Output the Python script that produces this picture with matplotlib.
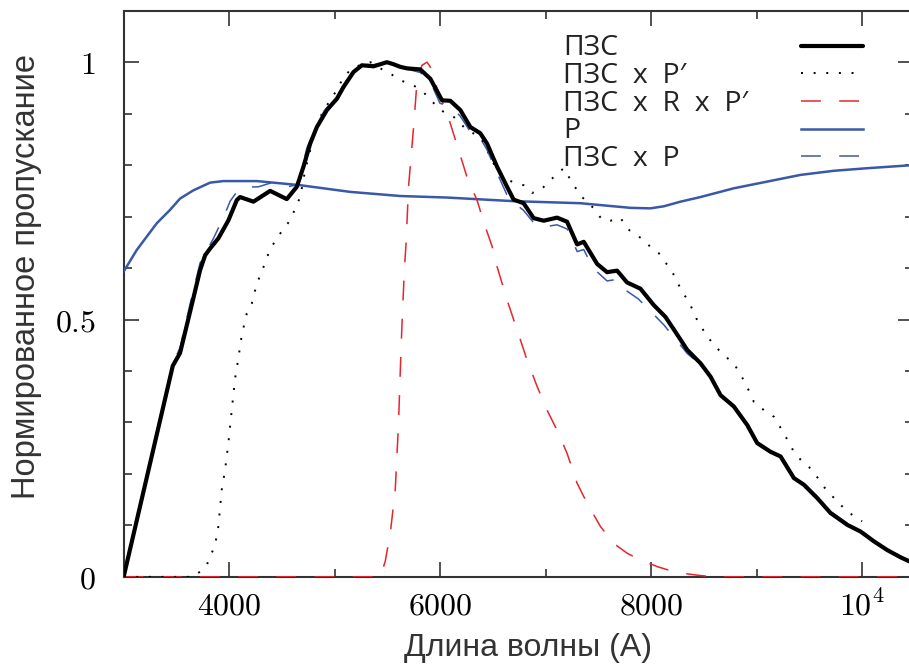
import matplotlib
matplotlib.use("Agg")
import matplotlib.pyplot as plt
from matplotlib import font_manager
from matplotlib.ticker import FixedLocator, MultipleLocator

plt.rcParams['mathtext.fontset'] = 'cm'

names = {f.name for f in font_manager.fontManager.ttflist}
label_font = 'Liberation Sans Narrow' if 'Liberation Sans Narrow' in names else 'Liberation Sans'

# ПЗС
ccd_x = [3000, 3466, 3535, 3630, 3725, 3773, 3820, 3899, 3994, 4073, 4104, 4231, 4389, 4547,
         4642, 4705, 4769, 4832, 4927, 5022, 5085, 5180, 5259, 5370, 5496, 5559, 5622, 5686,
         5812, 5907, 6018, 6097, 6192, 6287, 6381, 6445, 6540, 6635, 6697, 6792, 6887, 6982,
         7109, 7204, 7299, 7362, 7489, 7583, 7678, 7773, 7899, 8026, 8137, 8231, 8343, 8469,
         8564, 8659, 8785, 8912, 9006, 9133, 9228, 9354, 9449, 9576, 9702, 9861, 9987, 10113,
         10240, 10366, 10450]
ccd_y = [0.0, 0.41, 0.435, 0.515, 0.596, 0.625, 0.638, 0.658, 0.693, 0.732, 0.738, 0.729, 0.750,
         0.734, 0.758, 0.797, 0.842, 0.874, 0.907, 0.929, 0.952, 0.981, 0.994, 0.992, 1.0, 0.996,
         0.991, 0.988, 0.986, 0.968, 0.926, 0.925, 0.907, 0.874, 0.862, 0.842, 0.797, 0.758,
         0.733, 0.726, 0.697, 0.692, 0.698, 0.690, 0.646, 0.651, 0.608, 0.592, 0.595, 0.572,
         0.560, 0.528, 0.505, 0.476, 0.441, 0.415, 0.389, 0.353, 0.331, 0.295, 0.260, 0.243,
         0.234, 0.192, 0.179, 0.153, 0.124, 0.101, 0.088, 0.069, 0.052, 0.038, 0.030]

# ПЗС x P'
ccdp2_x = [3000, 3650, 3725, 3788, 3867, 3898, 3930, 3962, 3993, 4025, 4057, 4088, 4120, 4168,
           4215, 4263, 4310, 4389, 4484, 4579, 4674, 4721, 4753, 4800, 4879, 4958, 5022, 5085,
           5164, 5274, 5340, 5433, 5527, 5622, 5749, 5850, 6002, 6128, 6255, 6381, 6508, 6602,
           6697, 6792, 6872, 6951, 7046, 7172, 7267, 7346, 7457, 7536, 7615, 7710, 7773, 7836,
           7931, 7994, 8073, 8200, 8295, 8358, 8437, 8532, 8627, 8706, 8785, 8896, 8975, 9070,
           9165, 9259, 9354, 9433, 9528, 9638, 9749, 9860, 9955, 10000]
ccdp2_y = [0.0, 0.0, 0.01, 0.023, 0.062, 0.098, 0.169, 0.208, 0.26, 0.324, 0.386, 0.425, 0.47,
           0.512, 0.531, 0.570, 0.593, 0.637, 0.667, 0.693, 0.738, 0.79, 0.816, 0.855, 0.9, 0.926,
           0.946, 0.971, 0.988, 0.997, 1.0, 0.988, 0.978, 0.965, 0.955, 0.94, 0.907, 0.894, 0.868,
           0.855, 0.803, 0.777, 0.766, 0.761, 0.746, 0.751, 0.771, 0.794, 0.761, 0.738, 0.716,
           0.694, 0.692, 0.698, 0.677, 0.667, 0.655, 0.641, 0.629, 0.593, 0.554, 0.535, 0.499,
           0.467, 0.444, 0.428, 0.415, 0.376, 0.340, 0.324, 0.311, 0.279, 0.243, 0.224, 0.208,
           0.175, 0.150, 0.127, 0.114, 0.108]

# ПЗС x R x P'
ccdr_x = [3000, 5433, 5480, 5528, 5575, 5606, 5622, 5638, 5660, 5679, 5701, 5749, 5780, 5828,
          5876, 5907, 5954, 6018, 6097, 6176, 6255, 6350, 6429, 6492, 6540, 6635, 6730, 6825,
          6920, 7014, 7109, 7204, 7299, 7394, 7520, 7646, 7773, 7868, 8058, 8153, 8300, 8450,
          8600, 10480]
ccdr_y = [0.0, 0.0, 0.03, 0.085, 0.169, 0.298, 0.395, 0.486, 0.59, 0.654, 0.758, 0.874, 0.959,
          0.994, 1.0, 0.991, 0.959, 0.926, 0.881, 0.829, 0.777, 0.732, 0.680, 0.643, 0.603,
          0.538, 0.480, 0.421, 0.370, 0.324, 0.285, 0.240, 0.182, 0.143, 0.098, 0.065, 0.046,
          0.036, 0.020, 0.014, 0.007, 0.003, 0.0, 0.0]

# P
p_x = [3000, 3124, 3219, 3314, 3440, 3535, 3661, 3820, 3946, 4263, 4674, 5148, 5622, 6066,
       6697, 7330, 7804, 7994, 8121, 8279, 8469, 8785, 9101, 9417, 9733, 10050, 10480]
p_y = [0.593, 0.635, 0.661, 0.687, 0.713, 0.735, 0.751, 0.766, 0.769, 0.769, 0.761, 0.748,
       0.740, 0.737, 0.730, 0.726, 0.717, 0.716, 0.720, 0.729, 0.738, 0.755, 0.768, 0.781,
       0.789, 0.794, 0.80]

# ПЗС x P
ccdp_x = [3000, 3466, 3535, 3630, 3725, 3850, 3950, 4010, 4080, 4150, 4280, 4390, 4530, 4650,
          4740, 4800, 4900, 5022, 5085, 5180, 5259, 5370, 5496, 5622, 5812, 5907, 6000, 6097,
          6192, 6287, 6381, 6445, 6540, 6650, 6792, 6900, 6982, 7109, 7204, 7300, 7362, 7450,
          7583, 7678, 7773, 7880, 8000, 8120, 8231, 8300, 8343, 8469, 8564, 8659, 8785, 8912,
          9006, 9133, 9228, 9354, 9449, 9576, 9702, 9861, 9987, 10113, 10240, 10366, 10450]
ccdp_y = [0.0, 0.415, 0.445, 0.53, 0.61, 0.657, 0.70, 0.73, 0.75, 0.757, 0.758, 0.765, 0.757,
          0.762, 0.835, 0.862, 0.905, 0.935, 0.955, 0.985, 0.996, 0.995, 1.0, 0.99, 0.98, 0.962,
          0.92, 0.915, 0.895, 0.865, 0.852, 0.83, 0.785, 0.735, 0.712, 0.685, 0.68, 0.684, 0.676,
          0.632, 0.636, 0.600, 0.575, 0.578, 0.555, 0.540, 0.515, 0.490, 0.462, 0.445, 0.434,
          0.412, 0.388, 0.354, 0.333, 0.297, 0.262, 0.246, 0.237, 0.195, 0.182, 0.156, 0.127,
          0.104, 0.091, 0.071, 0.054, 0.040, 0.032]

xticks = [4000, 6000, 8000, 10000]
xtick_labels = ['$4000$', '$6000$', '$8000$', '$10^4$']
yticks = [0, 0.5, 1]
ytick_labels = ['$0$', '$0.5$', '$1$']

labels = ['ПЗС', 'ПЗС  x  P′', 'ПЗС  x  R  x  P′', 'P', 'ПЗС  x  P']

blue = '#3a58a8'
styles = [
    dict(color='black', lw=3.0, solid_capstyle='round'),
    dict(color='black', lw=1.4, linestyle=(0, (1, 5.5))),
    dict(color='#e8242c', lw=1.1, linestyle=(0, (13, 12))),
    dict(color=blue, lw=1.8),
    dict(color=blue, lw=1.1, linestyle=(0, (13, 12))),
]

fig = plt.figure(figsize=(9.09, 6.70), dpi=100)
ax = fig.add_axes([0.136, 0.139, 0.868, 0.845])

series = [(ccd_x, ccd_y), (ccdp2_x, ccdp2_y), (ccdr_x, ccdr_y), (p_x, p_y), (ccdp_x, ccdp_y)]
order = [3, 2, 1, 4, 0]
for i in order:
    x, y = series[i]
    ax.plot(x, y, zorder=3 + (i == 0), **styles[i])

ax.set_xlim(3000, 10480)
ax.set_ylim(0, 1.1)

ax.xaxis.set_major_locator(FixedLocator(xticks))
ax.set_xticklabels(xtick_labels)
ax.xaxis.set_minor_locator(MultipleLocator(1000))
ax.yaxis.set_major_locator(FixedLocator(yticks))
ax.set_yticklabels(ytick_labels)
ax.yaxis.set_minor_locator(MultipleLocator(0.1))

ax.tick_params(which='both', direction='in', top=True, right=True, width=1.1, color='#222222')
ax.tick_params(which='major', length=10.5, labelsize=23)
ax.tick_params(axis='x', which='major', pad=10)
ax.tick_params(axis='y', which='major', pad=20)
ax.tick_params(which='minor', length=5.5)
for s in ax.spines.values():
    s.set_linewidth(1.5)
    s.set_color('#333333')

ax.set_xlabel('Длина волны (A)', fontsize=23, family=label_font, color='#333333')
ax.set_ylabel('Нормированное пропускание', fontsize=23.5, family=label_font, color='#333333')
ax.xaxis.set_label_coords(0.512, -0.099)
ax.yaxis.set_label_coords(-0.104, 0.53)

# legend drawn like the gnuplot key: text on the left, sample on the right
for i, lab in enumerate(labels):
    yb = 0.921 - i * 0.0488
    ax.text(0.5573, yb, lab, transform=ax.transAxes, fontsize=20.5, family='Open Sans',
            color='#222222', va='baseline', ha='left')
    ax.plot([0.858, 0.9365], [yb + 0.017, yb + 0.017], transform=ax.transAxes, **styles[i])

fig.savefig('out.png', dpi=100)
